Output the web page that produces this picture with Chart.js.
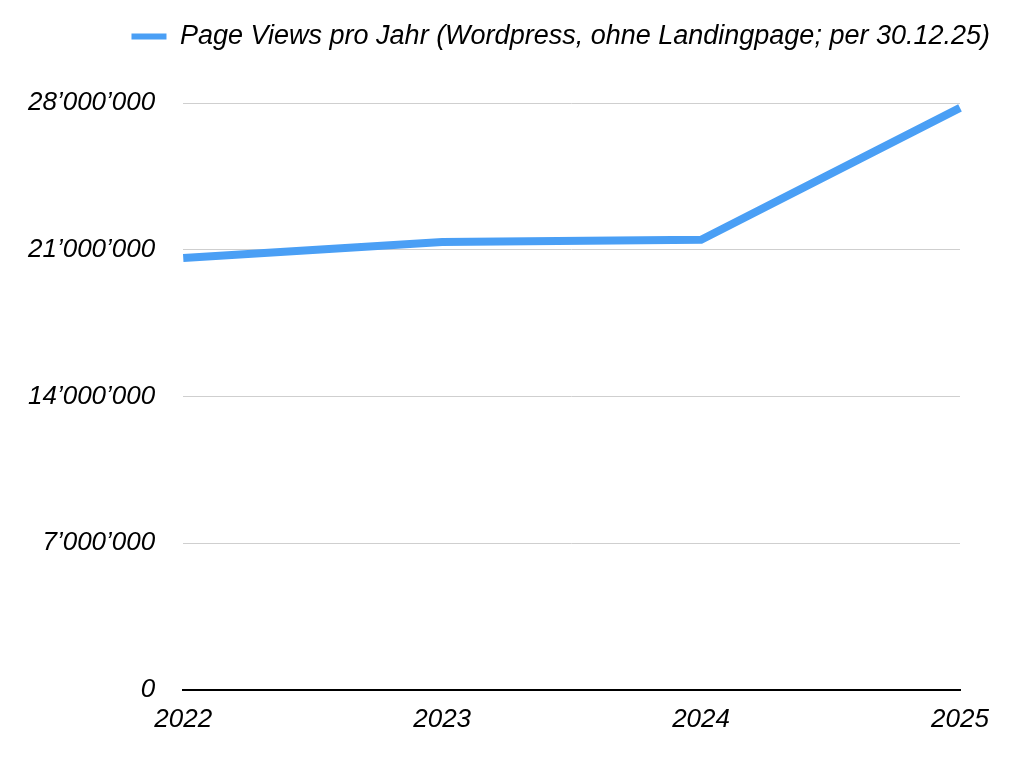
<!DOCTYPE html>
<html>
<head>
<meta charset="utf-8">
<script src="https://cdn.jsdelivr.net/npm/chart.js@4.4.1/dist/chart.umd.min.js"></script>
<style>
    html, body { margin: 0; padding: 0; background: #ffffff; }
    #wrap { width: 1024px; height: 771px; position: relative; }
</style>
</head>
<body>
<div id="wrap"><canvas id="viewsChart"></canvas></div>
<script>
const years = ['2022', '2023', '2024', '2025'];
const pageViews = [20600000, 21370000, 21470000, 27770000];
const yTicks = [0, 7000000, 14000000, 21000000, 28000000];

function formatSwiss(v) {
    return v.toString().replace(/\B(?=(\d{3})+(?!\d))/g, '\u2019');
}

const tickFont = { family: 'Liberation Sans', size: 26, style: 'italic' };

// extra room under the legend
const legendSpace = {
    id: 'legendSpace',
    beforeInit(chart) {
        const origFit = chart.legend.fit;
        chart.legend.fit = function () {
            origFit.bind(chart.legend)();
            this.height += 43;
        };
    }
};

document.addEventListener('DOMContentLoaded', function () {
    const ctx = document.getElementById('viewsChart').getContext('2d');

    new Chart(ctx, {
        type: 'line',
        data: {
            labels: years,
            datasets: [{
                label: 'Page Views pro Jahr (Wordpress, ohne Landingpage; per 30.12.25)',
                data: pageViews,
                borderColor: '#4a9ff5',
                backgroundColor: '#4a9ff5',
                borderWidth: 8,
                pointRadius: 0,
                tension: 0,
                fill: false
            }]
        },
        plugins: [legendSpace],
        options: {
            responsive: true,
            maintainAspectRatio: false,
            animation: false,
            layout: {
                padding: { top: 3, right: 14, bottom: 22, left: 0 }
            },
            plugins: {
                legend: {
                    align: 'end',
                    labels: {
                        boxWidth: 35,
                        boxHeight: 6,
                        padding: 20,
                        color: '#000000',
                        font: { family: 'Liberation Sans', size: 27, style: 'italic' },
                        generateLabels: function (chart) {
                            const items = Chart.defaults.plugins.legend.labels.generateLabels(chart);
                            items.forEach(it => { it.lineWidth = 0; });
                            return items;
                        }
                    }
                },
                tooltip: { enabled: false }
            },
            scales: {
                x: {
                    offset: false,
                    grid: { display: false, drawTicks: false },
                    border: { display: true, color: '#000000', width: 2 },
                    ticks: {
                        padding: 14,
                        maxRotation: 0,
                        color: '#000000',
                        font: tickFont
                    }
                },
                y: {
                    min: 0,
                    max: 28000000,
                    afterBuildTicks: function (axis) {
                        axis.ticks = yTicks.map(v => ({ value: v }));
                    },
                    grid: {
                        color: '#cfcfcf',
                        lineWidth: 1,
                        drawTicks: false
                    },
                    border: { display: false },
                    ticks: {
                        padding: 28,
                        color: '#000000',
                        font: tickFont,
                        callback: function (value) {
                            return formatSwiss(value);
                        }
                    }
                },
                spacer: {
                    position: 'right',
                    display: true,
                    grid: { display: false, drawTicks: false },
                    border: { display: false },
                    ticks: { display: false },
                    afterFit: function (axis) {
                        axis.width = 50;
                    }
                }
            }
        }
    });
});
</script>
</body>
</html>
